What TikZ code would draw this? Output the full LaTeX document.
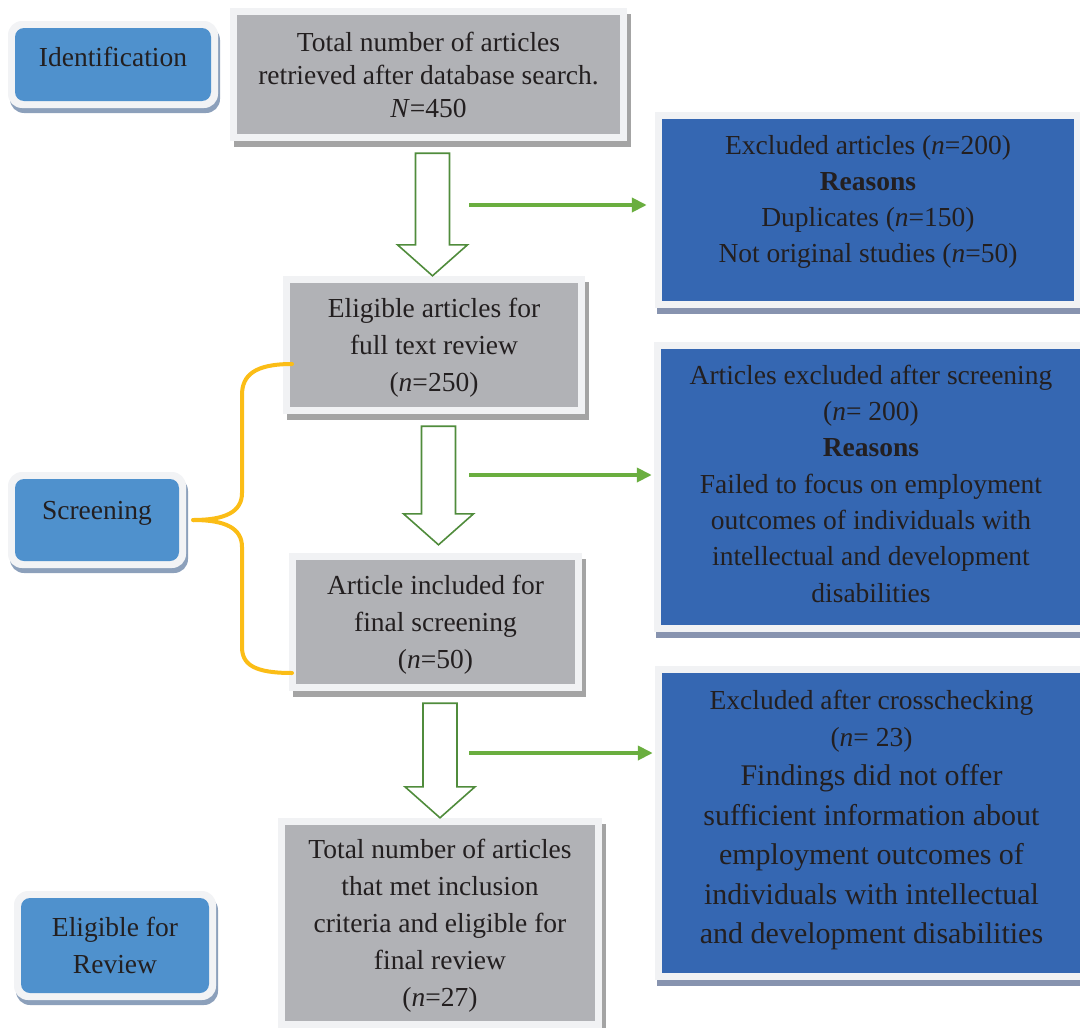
\documentclass[tikz,border=0pt]{standalone}
\usepackage{fontspec}
\setmainfont{Liberation Serif}
\usetikzlibrary{calc,shadows,arrows.meta}

\definecolor{inktext}{HTML}{231F20}
\definecolor{stageblue}{HTML}{4F91CD}
\definecolor{stageedge}{HTML}{F2F3F5}
\definecolor{stageshadow}{HTML}{8CA0BB}
\definecolor{boxgray}{HTML}{B1B2B6}
\definecolor{boxedge}{HTML}{F1F2F4}
\definecolor{grayshadow}{HTML}{A4A4A4}
\definecolor{exblue}{HTML}{3567B2}
\definecolor{blueshadow}{HTML}{8793AF}
\definecolor{flowgreen}{HTML}{508C3C}
\definecolor{linkgreen}{HTML}{6AAE3F}
\definecolor{braceyellow}{HTML}{FBBD16}

% bigger lines of the crosschecking box
\newcommand{\bigtxt}{\fontsize{30}{39.5}\selectfont}

% hollow block arrow from one box down to the next (#4 = gap above the lower box)
\newcommand{\downflow}[4]{%
  \coordinate (ftop) at ($(#1.south)+(#3,12)$);
  \coordinate (ftip) at ($(ftop |- #2.north)+(0,-#4)$);
  \draw[hollowarrow] ($(ftop)+(-17,0)$) -- ($(ftip)+(-17,-31)$) -- ($(ftip)+(-35,-31)$)
    -- (ftip) -- ($(ftip)+(35,-31)$) -- ($(ftip)+(17,-31)$) -- ($(ftop)+(17,0)$) -- cycle;}

\begin{document}
\begin{tikzpicture}[x=1pt,y=-1pt,
  every node/.style={text=inktext, align=center, inner sep=0pt,
    font=\fontsize{27.5}{37}\selectfont},
  stagebox/.style={rounded corners=14pt, fill=stageedge,
    drop shadow={shadow xshift=2pt, shadow yshift=-5pt, fill=stageshadow, opacity=1},
    path picture={\fill[stageblue, rounded corners=9pt]
      ([shift={(7pt,7pt)}]path picture bounding box.south west) rectangle
      ([shift={(-7pt,-7pt)}]path picture bounding box.north east);}},
  graybox/.style={fill=boxedge,
    drop shadow={shadow xshift=4pt, shadow yshift=-6pt, fill=grayshadow, opacity=1},
    path picture={\fill[boxgray]
      ([shift={(7pt,7pt)}]path picture bounding box.south west) rectangle
      ([shift={(-7pt,-7pt)}]path picture bounding box.north east);}},
  exbox/.style={fill=boxedge, font=\fontsize{27.5}{36.3}\selectfont,
    drop shadow={shadow xshift=2pt, shadow yshift=-6pt, fill=blueshadow, opacity=1},
    path picture={\fill[exblue]
      ([shift={(7pt,7pt)}]path picture bounding box.south west) rectangle
      ([shift={(-7pt,-7pt)}]path picture bounding box.north east);}},
  hollowarrow/.style={draw=flowgreen, line width=1.6pt, fill=white, line join=miter},
  sidelink/.style={draw=linkgreen, line width=4pt, -{Triangle[length=15pt,width=14pt]}},
  bracket/.style={draw=braceyellow, line width=4pt, line cap=round}]

\useasboundingbox (0,0) rectangle (1080,1028);
\clip (0,0) rectangle (1080,1028);

% stages
\node[stagebox, minimum width=210pt, minimum height=87pt, text height=18pt, text depth=15pt]
  (ident) at (113,64.5) {Identification};
\node[stagebox, minimum width=178pt, minimum height=96pt, text height=18pt, text depth=20pt]
  (scr) at (97,520) {Screening};
\node[stagebox, minimum width=202pt, minimum height=109pt]
  (rev) at (115,945.5) {Eligible for\\ Review};

% main flow
\node[graybox, minimum width=397pt, minimum height=133pt, font=\fontsize{27.5}{33}\selectfont]
  (total) at (428.5,74.5)
  {Total number of articles\\ retrieved after database search.\\ \textit{N}=450};
\node[graybox, minimum width=302pt, minimum height=138pt, text depth=-11pt] (elig) at (434,345)
  {Eligible articles for\\ full text review\\ (\textit{n}=250)};
\node[graybox, minimum width=293pt, minimum height=138pt, text depth=-11pt] (incl) at (435.5,622)
  {Article included for\\ final screening\\ (\textit{n}=50)};
\node[graybox, minimum width=324pt, minimum height=210pt, text depth=-14pt] (final) at (440,923)
  {Total number of articles\\ that met inclusion\\ criteria and eligible for\\ final review\\ (\textit{n}=27)};

% exclusions
\node[exbox, minimum width=426pt, minimum height=196pt, text depth=22pt] (exA) at (868,210)
  {Excluded articles (\textit{n}=200)\\ \textbf{Reasons}\\ Duplicates (\textit{n}=150)\\ Not original studies (\textit{n}=50)};
\node[exbox, minimum width=434pt, minimum height=290pt, text depth=7pt] (exB) at (871,487)
  {Articles excluded after screening\\ (\textit{n}= 200)\\ \textbf{Reasons}\\ Failed to focus on employment\\ outcomes of individuals with\\ intellectual and development\\ disabilities};
\node[exbox, minimum width=433pt, minimum height=314pt, text depth=12pt,
  font=\fontsize{27.5}{37}\selectfont] (exC) at (871.5,823)
  {Excluded after crosschecking\\ (\textit{n}= 23)\\[2.5pt]
   {\bigtxt Findings did not offer}\\[2.5pt] {\bigtxt sufficient information about}\\[2.5pt]
   {\bigtxt employment outcomes of}\\[2.5pt] {\bigtxt individuals with intellectual}\\[2.5pt]
   {\bigtxt and development disabilities}};

% block arrows
\downflow{total}{elig}{4}{0}
\downflow{elig}{incl}{4.5}{8}
\downflow{incl}{final}{4.5}{0}

% side arrows
\coordinate (cutA) at (469,205);
\coordinate (cutB) at (469,475);
\coordinate (cutC) at (469,753);
\draw[sidelink] (cutA) -- ([xshift=-8pt]cutA -| exA.west);
\draw[sidelink] (cutB) -- ([xshift=-2pt]cutB -| exB.west);
\draw[sidelink] (cutC) -- ([xshift=-2pt]cutC -| exC.west);

% screening brace
\coordinate (brtip) at ($(scr.east)+(7,0)$);
\draw[bracket] (brtip) .. controls (225,520) and (242,512) .. (242,493) -- (242,395)
  .. controls (242,375) and (255,364) .. (292,364);
\draw[bracket] (brtip) .. controls (225,520) and (242,528) .. (242,547) -- (242,647)
  .. controls (242,665) and (255,673) .. (292,673);

\end{tikzpicture}
\end{document}
